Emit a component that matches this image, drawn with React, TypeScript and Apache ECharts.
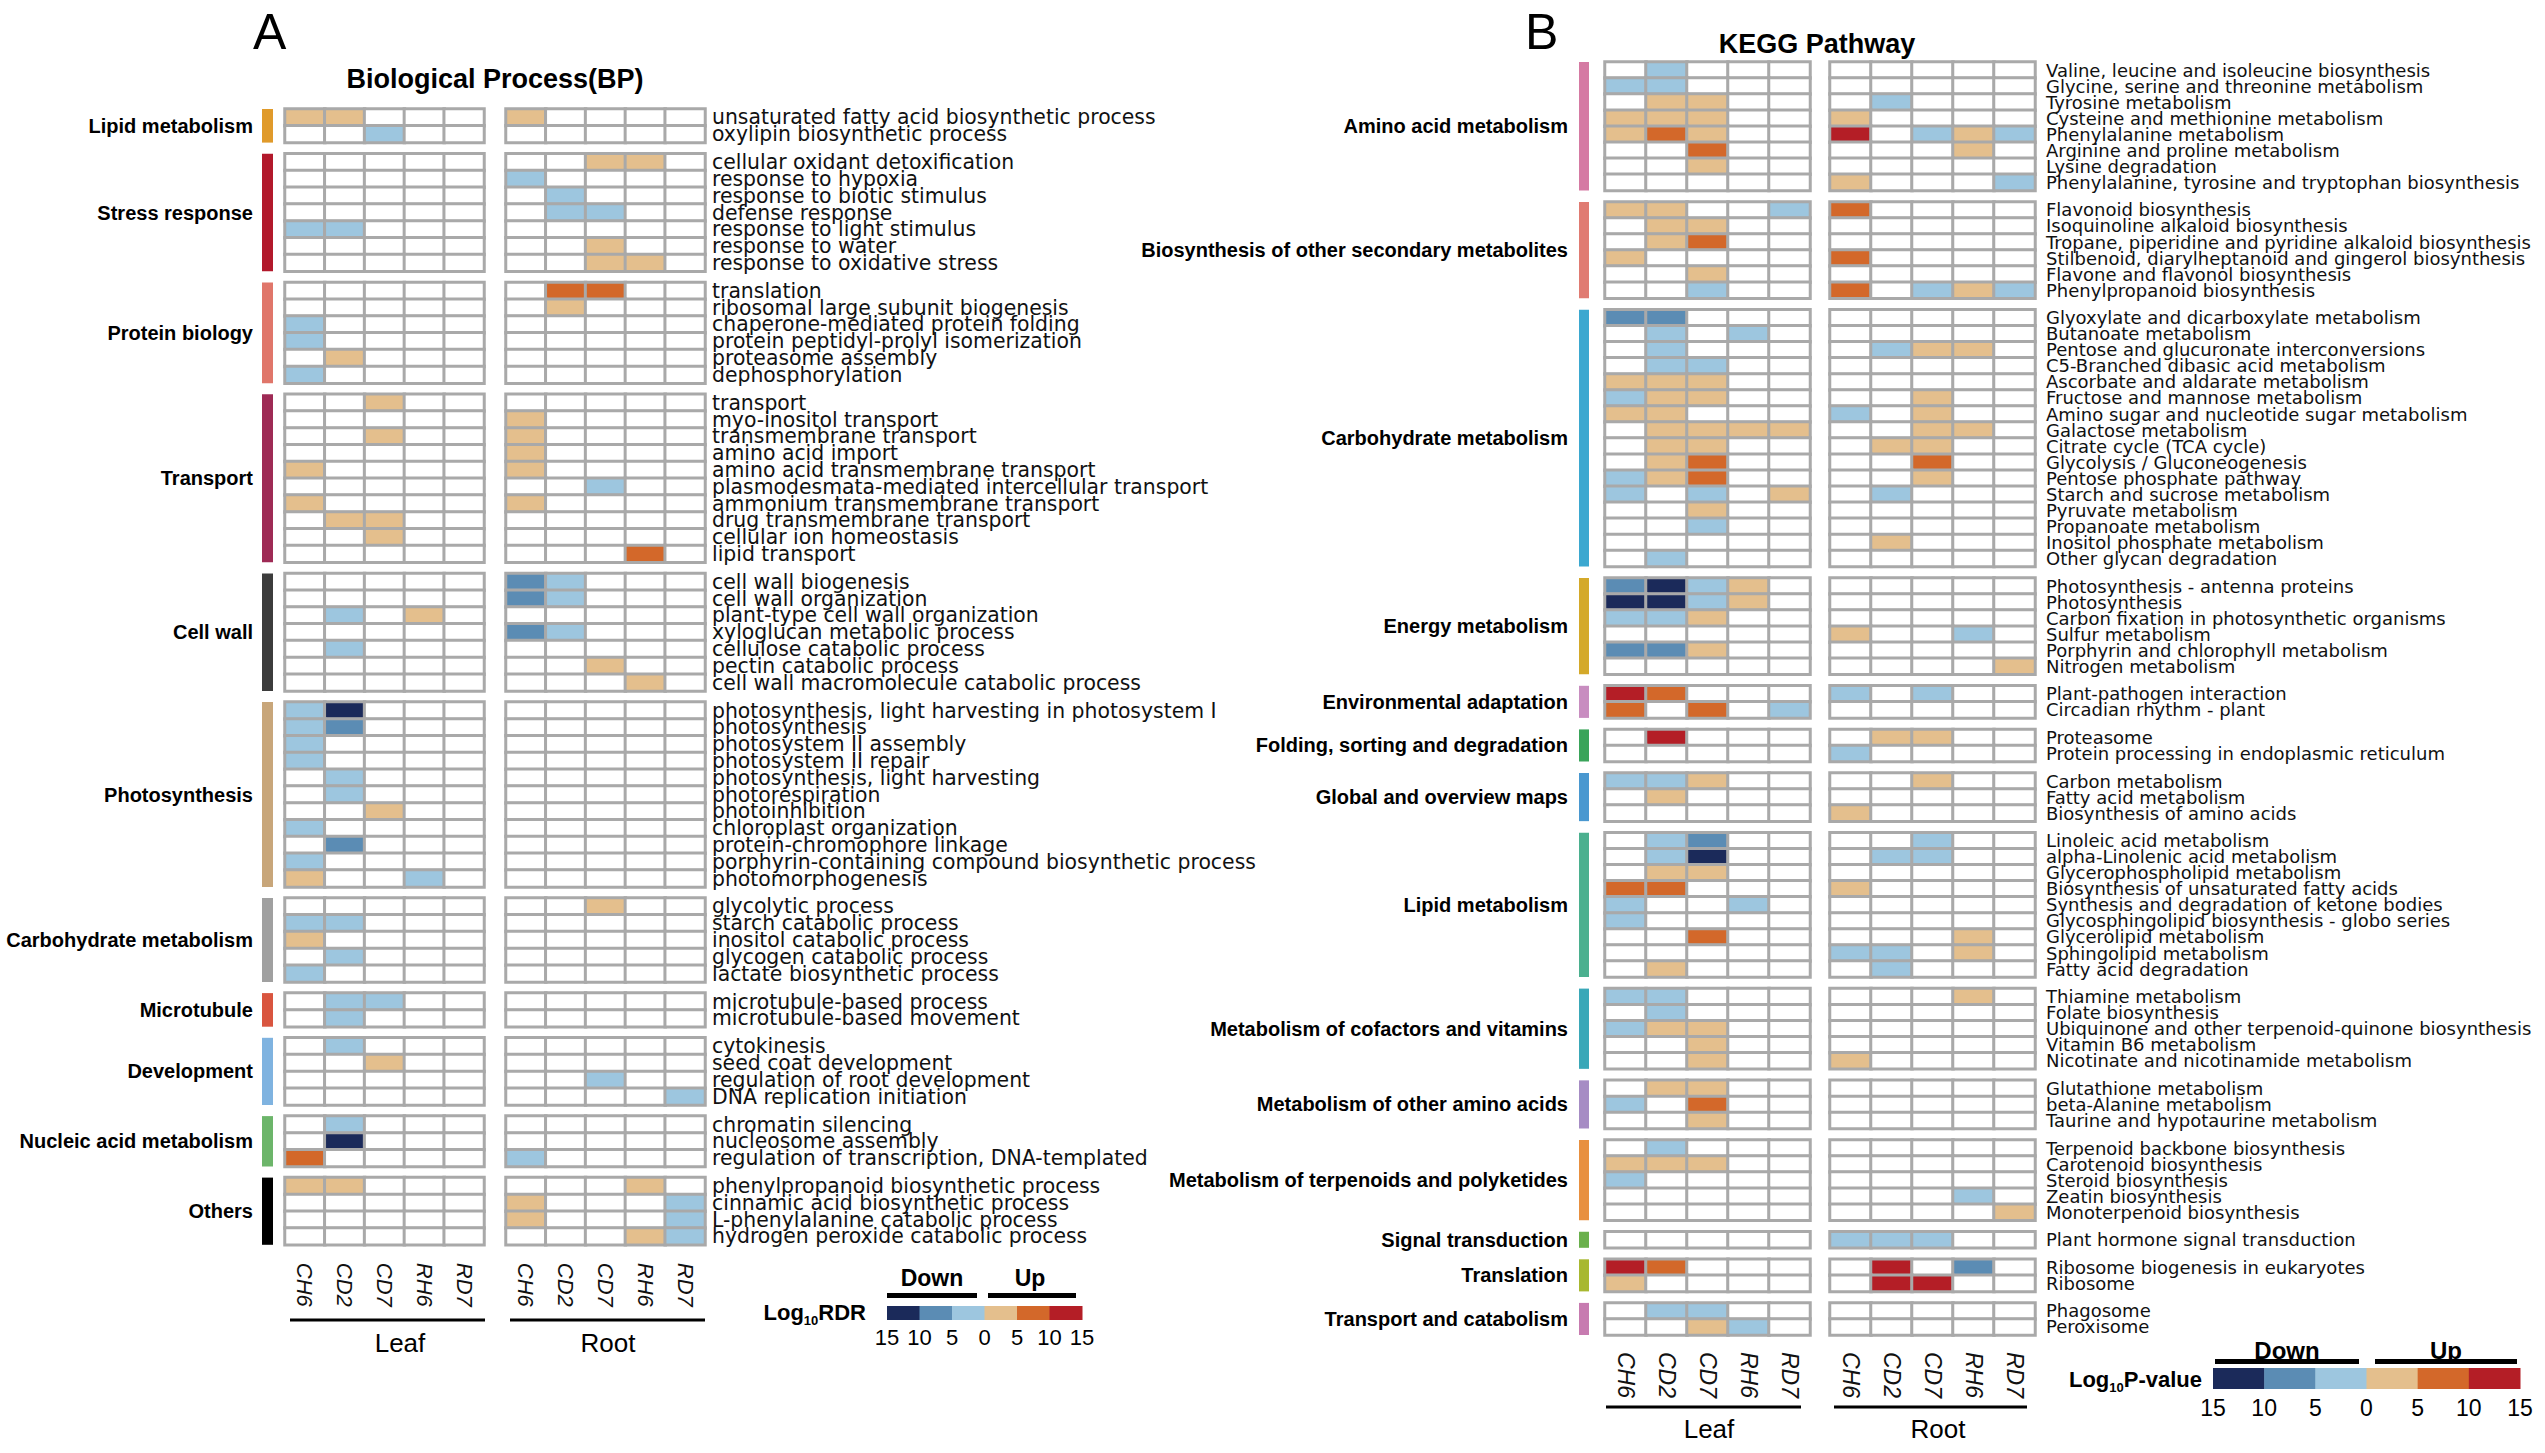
import React, { useEffect, useRef } from "react";
import * as echarts from "echarts";

// ---------- value levels (log10 estimates read from colour classes) ----------
const d = -13; // down, 10-15 (dark navy)
const m = -8; // down, 5-10 (steel blue)
const l = -3; // down, 0-5 (light blue)
const _ = 0; // not significant
const t = 3; // up, 0-5 (tan)
const o = 8; // up, 5-10 (orange)
const r = 13; // up, 10-15 (red)

const samples = ["CH6", "CD2", "CD7", "RH6", "RD7"];
const tissues = ["Leaf", "Root"];
const legendTicks = ["15", "10", "5", "0", "5", "10", "15"];
const LEVEL_COLORS = ["#1b2a5a", "#5b8cb4", "#9dc6df", "#e4bf8d", "#d3682a", "#b41e26"];

type Row = [string, number[]];

// ---------- Panel A: Biological Process ----------
const bpLipid: Row[] = [
  ["unsaturated fatty acid biosynthetic process", [t, t, _, _, _, t, _, _, _, _]],
  ["oxylipin biosynthetic process", [_, _, l, _, _, _, _, _, _, _]],
];
const bpStress: Row[] = [
  ["cellular oxidant detoxification", [_, _, _, _, _, _, _, t, t, _]],
  ["response to hypoxia", [_, _, _, _, _, l, _, _, _, _]],
  ["response to biotic stimulus", [_, _, _, _, _, _, l, _, _, _]],
  ["defense response", [_, _, _, _, _, _, l, l, _, _]],
  ["response to light stimulus", [l, l, _, _, _, _, _, _, _, _]],
  ["response to water", [_, _, _, _, _, _, _, t, _, _]],
  ["response to oxidative stress", [_, _, _, _, _, _, _, t, t, _]],
];
const bpProtein: Row[] = [
  ["translation", [_, _, _, _, _, _, o, o, _, _]],
  ["ribosomal large subunit biogenesis", [_, _, _, _, _, _, t, _, _, _]],
  ["chaperone-mediated protein folding", [l, _, _, _, _, _, _, _, _, _]],
  ["protein peptidyl-prolyl isomerization", [l, _, _, _, _, _, _, _, _, _]],
  ["proteasome assembly", [_, t, _, _, _, _, _, _, _, _]],
  ["dephosphorylation", [l, _, _, _, _, _, _, _, _, _]],
];
const bpTransport: Row[] = [
  ["transport", [_, _, t, _, _, _, _, _, _, _]],
  ["myo-inositol transport", [_, _, _, _, _, t, _, _, _, _]],
  ["transmembrane transport", [_, _, t, _, _, t, _, _, _, _]],
  ["amino acid import", [_, _, _, _, _, t, _, _, _, _]],
  ["amino acid transmembrane transport", [t, _, _, _, _, t, _, _, _, _]],
  ["plasmodesmata-mediated intercellular transport", [_, _, _, _, _, _, _, l, _, _]],
  ["ammonium transmembrane transport", [t, _, _, _, _, t, _, _, _, _]],
  ["drug transmembrane transport", [_, t, t, _, _, _, _, _, _, _]],
  ["cellular ion homeostasis", [_, _, t, _, _, _, _, _, _, _]],
  ["lipid transport", [_, _, _, _, _, _, _, _, o, _]],
];
const bpCellWall: Row[] = [
  ["cell wall biogenesis", [_, _, _, _, _, m, l, _, _, _]],
  ["cell wall organization", [_, _, _, _, _, m, l, _, _, _]],
  ["plant-type cell wall organization", [_, l, _, t, _, _, _, _, _, _]],
  ["xyloglucan metabolic process", [_, _, _, _, _, m, l, _, _, _]],
  ["cellulose catabolic process", [_, l, _, _, _, _, _, _, _, _]],
  ["pectin catabolic process", [_, _, _, _, _, _, _, t, _, _]],
  ["cell wall macromolecule catabolic process", [_, _, _, _, _, _, _, _, t, _]],
];
const bpPhoto: Row[] = [
  ["photosynthesis, light harvesting in photosystem I", [l, d, _, _, _, _, _, _, _, _]],
  ["photosynthesis", [l, m, _, _, _, _, _, _, _, _]],
  ["photosystem II assembly", [l, _, _, _, _, _, _, _, _, _]],
  ["photosystem II repair", [l, _, _, _, _, _, _, _, _, _]],
  ["photosynthesis, light harvesting", [_, l, _, _, _, _, _, _, _, _]],
  ["photorespiration", [_, l, _, _, _, _, _, _, _, _]],
  ["photoinhibition", [_, _, t, _, _, _, _, _, _, _]],
  ["chloroplast organization", [l, _, _, _, _, _, _, _, _, _]],
  ["protein-chromophore linkage", [_, m, _, _, _, _, _, _, _, _]],
  ["porphyrin-containing compound biosynthetic process", [l, _, _, _, _, _, _, _, _, _]],
  ["photomorphogenesis", [t, _, _, l, _, _, _, _, _, _]],
];
const bpCarb: Row[] = [
  ["glycolytic process", [_, _, _, _, _, _, _, t, _, _]],
  ["starch catabolic process", [l, l, _, _, _, _, _, _, _, _]],
  ["inositol catabolic process", [t, _, _, _, _, _, _, _, _, _]],
  ["glycogen catabolic process", [_, l, _, _, _, _, _, _, _, _]],
  ["lactate biosynthetic process", [l, _, _, _, _, _, _, _, _, _]],
];
const bpMicro: Row[] = [
  ["microtubule-based process", [_, l, l, _, _, _, _, _, _, _]],
  ["microtubule-based movement", [_, l, _, _, _, _, _, _, _, _]],
];
const bpDev: Row[] = [
  ["cytokinesis", [_, l, _, _, _, _, _, _, _, _]],
  ["seed coat development", [_, _, t, _, _, _, _, _, _, _]],
  ["regulation of root development", [_, _, _, _, _, _, _, l, _, _]],
  ["DNA replication initiation", [_, _, _, _, _, _, _, _, _, l]],
];
const bpNucleic: Row[] = [
  ["chromatin silencing", [_, l, _, _, _, _, _, _, _, _]],
  ["nucleosome assembly", [_, d, _, _, _, _, _, _, _, _]],
  ["regulation of transcription, DNA-templated", [o, _, _, _, _, l, _, _, _, _]],
];
const bpOthers: Row[] = [
  ["phenylpropanoid biosynthetic process", [t, t, _, _, _, _, _, _, t, _]],
  ["cinnamic acid biosynthetic process", [_, _, _, _, _, t, _, _, _, l]],
  ["L-phenylalanine catabolic process", [_, _, _, _, _, t, _, _, _, l]],
  ["hydrogen peroxide catabolic process", [_, _, _, _, _, _, _, _, t, l]],
];

const bpGroups: [string, string, Row[]][] = [
  ["Lipid metabolism", "#e09a2a", bpLipid],
  ["Stress response", "#b2182b", bpStress],
  ["Protein biology", "#e0766a", bpProtein],
  ["Transport", "#9e2a55", bpTransport],
  ["Cell wall", "#3c3c3c", bpCellWall],
  ["Photosynthesis", "#c8a67a", bpPhoto],
  ["Carbohydrate metabolism", "#a0a0a0", bpCarb],
  ["Microtubule", "#d9553f", bpMicro],
  ["Development", "#7fb3e0", bpDev],
  ["Nucleic acid metabolism", "#6cb56a", bpNucleic],
  ["Others", "#000000", bpOthers],
];

// ---------- Panel B: KEGG Pathway ----------
const kgAmino: Row[] = [
  ["Valine, leucine and isoleucine biosynthesis", [_, l, _, _, _, _, _, _, _, _]],
  ["Glycine, serine and threonine metabolism", [l, l, _, _, _, _, _, _, _, _]],
  ["Tyrosine metabolism", [_, t, t, _, _, _, l, _, _, _]],
  ["Cysteine and methionine metabolism", [t, t, t, _, _, t, _, _, _, _]],
  ["Phenylalanine metabolism", [t, o, t, _, _, r, _, l, t, l]],
  ["Arginine and proline metabolism", [_, _, o, _, _, _, _, _, t, _]],
  ["Lysine degradation", [_, _, t, _, _, _, _, _, _, _]],
  ["Phenylalanine, tyrosine and tryptophan biosynthesis", [_, _, _, _, _, t, _, _, _, l]],
];
const kgSecondary: Row[] = [
  ["Flavonoid biosynthesis", [t, t, _, _, l, o, _, _, _, _]],
  ["Isoquinoline alkaloid biosynthesis", [_, t, t, _, _, _, _, _, _, _]],
  ["Tropane, piperidine and pyridine alkaloid biosynthesis", [_, t, o, _, _, _, _, _, _, _]],
  ["Stilbenoid, diarylheptanoid and gingerol biosynthesis", [t, _, _, _, _, o, _, _, _, _]],
  ["Flavone and flavonol biosynthesis", [_, _, t, _, _, _, _, _, _, _]],
  ["Phenylpropanoid biosynthesis", [_, _, l, _, _, o, _, l, t, l]],
];
const kgCarb: Row[] = [
  ["Glyoxylate and dicarboxylate metabolism", [m, m, _, _, _, _, _, _, _, _]],
  ["Butanoate metabolism", [_, l, _, l, _, _, _, _, _, _]],
  ["Pentose and glucuronate interconversions", [_, l, _, _, _, _, l, t, t, _]],
  ["C5-Branched dibasic acid metabolism", [_, l, l, _, _, _, _, _, _, _]],
  ["Ascorbate and aldarate metabolism", [t, t, t, _, _, _, _, _, _, _]],
  ["Fructose and mannose metabolism", [l, t, t, _, _, _, _, t, _, _]],
  ["Amino sugar and nucleotide sugar metabolism", [t, t, _, _, _, l, _, t, _, _]],
  ["Galactose metabolism", [_, t, t, t, t, _, _, t, t, _]],
  ["Citrate cycle (TCA cycle)", [_, t, t, _, _, _, t, t, _, _]],
  ["Glycolysis / Gluconeogenesis", [_, t, o, _, _, _, _, o, _, _]],
  ["Pentose phosphate pathway", [l, t, o, _, _, _, _, t, _, _]],
  ["Starch and sucrose metabolism", [l, _, l, _, t, _, l, _, _, _]],
  ["Pyruvate metabolism", [_, _, t, _, _, _, _, _, _, _]],
  ["Propanoate metabolism", [_, _, l, _, _, _, _, _, _, _]],
  ["Inositol phosphate metabolism", [_, _, _, _, _, _, t, _, _, _]],
  ["Other glycan degradation", [_, l, _, _, _, _, _, _, _, _]],
];
const kgEnergy: Row[] = [
  ["Photosynthesis - antenna proteins", [m, d, l, t, _, _, _, _, _, _]],
  ["Photosynthesis", [d, d, l, t, _, _, _, _, _, _]],
  ["Carbon fixation in photosynthetic organisms", [l, l, t, _, _, _, _, _, _, _]],
  ["Sulfur metabolism", [_, _, _, _, _, t, _, _, l, _]],
  ["Porphyrin and chlorophyll metabolism", [m, m, t, _, _, _, _, _, _, _]],
  ["Nitrogen metabolism", [_, _, _, _, _, _, _, _, _, t]],
];
const kgEnv: Row[] = [
  ["Plant-pathogen interaction", [r, o, _, _, _, l, _, l, _, _]],
  ["Circadian rhythm - plant", [o, _, o, _, l, _, _, _, _, _]],
];
const kgFolding: Row[] = [
  ["Proteasome", [_, r, _, _, _, _, t, t, _, _]],
  ["Protein processing in endoplasmic reticulum", [_, _, _, _, _, l, _, _, _, _]],
];
const kgGlobal: Row[] = [
  ["Carbon metabolism", [l, l, t, _, _, _, _, t, _, _]],
  ["Fatty acid metabolism", [_, t, _, _, _, _, _, _, _, _]],
  ["Biosynthesis of amino acids", [_, _, _, _, _, t, _, _, _, _]],
];
const kgLipid: Row[] = [
  ["Linoleic acid metabolism", [_, l, m, _, _, _, _, l, _, _]],
  ["alpha-Linolenic acid metabolism", [_, l, d, _, _, _, l, l, _, _]],
  ["Glycerophospholipid metabolism", [_, t, t, _, _, _, _, _, _, _]],
  ["Biosynthesis of unsaturated fatty acids", [o, o, _, _, _, t, _, _, _, _]],
  ["Synthesis and degradation of ketone bodies", [l, _, _, l, _, _, _, _, _, _]],
  ["Glycosphingolipid biosynthesis - globo series", [l, _, _, _, _, _, _, _, _, _]],
  ["Glycerolipid metabolism", [_, _, o, _, _, _, _, _, t, _]],
  ["Sphingolipid metabolism", [_, _, _, _, _, l, l, _, t, _]],
  ["Fatty acid degradation", [_, t, _, _, _, _, l, _, _, _]],
];
const kgCofactor: Row[] = [
  ["Thiamine metabolism", [l, l, _, _, _, _, _, _, t, _]],
  ["Folate biosynthesis", [_, l, _, _, _, _, _, _, _, _]],
  ["Ubiquinone and other terpenoid-quinone biosynthesis", [l, t, t, _, _, _, _, _, _, _]],
  ["Vitamin B6 metabolism", [_, _, t, _, _, _, _, _, _, _]],
  ["Nicotinate and nicotinamide metabolism", [_, _, t, _, _, t, _, _, _, _]],
];
const kgOtherAA: Row[] = [
  ["Glutathione metabolism", [_, t, t, _, _, _, _, _, _, _]],
  ["beta-Alanine metabolism", [l, _, o, _, _, _, _, _, _, _]],
  ["Taurine and hypotaurine metabolism", [_, _, t, _, _, _, _, _, _, _]],
];
const kgTerp: Row[] = [
  ["Terpenoid backbone biosynthesis", [_, l, _, _, _, _, _, _, _, _]],
  ["Carotenoid biosynthesis", [t, t, t, _, _, _, _, _, _, _]],
  ["Steroid biosynthesis", [l, _, _, _, _, _, _, _, _, _]],
  ["Zeatin biosynthesis", [_, _, _, _, _, _, _, _, l, _]],
  ["Monoterpenoid biosynthesis", [_, _, _, _, _, _, _, _, _, t]],
];
const kgSignal: Row[] = [
  ["Plant hormone signal transduction", [_, _, _, _, _, l, l, l, _, _]],
];
const kgTranslation: Row[] = [
  ["Ribosome biogenesis in eukaryotes", [r, o, _, _, _, _, r, _, m, _]],
  ["Ribosome", [t, _, _, _, _, _, r, r, _, _]],
];
const kgTransport: Row[] = [
  ["Phagosome", [_, l, l, _, _, _, _, _, _, _]],
  ["Peroxisome", [_, _, t, l, _, _, _, _, _, _]],
];

const kgGroups: [string, string, Row[]][] = [
  ["Amino acid metabolism", "#d57aa3", kgAmino],
  ["Biosynthesis of other secondary metabolites", "#e07b72", kgSecondary],
  ["Carbohydrate metabolism", "#3ba8d0", kgCarb],
  ["Energy metabolism", "#d4a92a", kgEnergy],
  ["Environmental adaptation", "#c88dc0", kgEnv],
  ["Folding, sorting and degradation", "#3aa45a", kgFolding],
  ["Global and overview maps", "#4a98d0", kgGlobal],
  ["Lipid metabolism", "#4bb08f", kgLipid],
  ["Metabolism of cofactors and vitamins", "#3aa8b8", kgCofactor],
  ["Metabolism of other amino acids", "#a68cc4", kgOtherAA],
  ["Metabolism of terpenoids and polyketides", "#e89040", kgTerp],
  ["Signal transduction", "#6ab04c", kgSignal],
  ["Translation", "#a8b830", kgTranslation],
  ["Transport and catabolism", "#c77bb0", kgTransport],
];

// ---------- styling ----------
const SANS = "'Liberation Sans', Arial, Helvetica, sans-serif";
const ROWFONT = "'DejaVu Sans', Verdana, sans-serif";
const GRID_GREY = "#a9a9a9";

function measure(text: string, font: string): number {
  const c = document.createElement("canvas");
  const ctx = c.getContext("2d")!;
  ctx.font = font;
  return ctx.measureText(text).width;
}

type Cfg = {
  top: number; rowH: number; gap: number; leafLeft: number; rootLeft: number; gridW: number;
  barX: number; barW: number; groupRight: number; rowFont: number; labelMargin: number;
  colFont: number; colMargin: number;
};

function buildPanel(groups: [string, string, Row[]][], cfg: Cfg, out: any) {
  let y = cfg.top;
  groups.forEach((g, gi) => {
    const [gname, gcolor, rows] = g;
    const h = rows.length * cfg.rowH;
    const isLast = gi === groups.length - 1;
    for (let ti = 0; ti < 2; ti++) {
      const idx = out.grid.length;
      out.grid.push({ left: ti ? cfg.rootLeft : cfg.leafLeft, top: y, width: cfg.gridW, height: h });
      out.xAxis.push({
        type: "category", gridIndex: idx, data: samples, position: "bottom",
        axisLine: { show: false }, axisTick: { show: false }, splitLine: { show: false },
        axisLabel: {
          show: isLast, interval: 0, rotate: -90, margin: cfg.colMargin,
          fontFamily: SANS, fontStyle: "italic", fontSize: cfg.colFont, color: "#111",
        },
      });
      out.yAxis.push({
        type: "category", gridIndex: idx, data: rows.map((rw) => rw[0]), inverse: true, position: "right",
        axisLine: { show: false }, axisTick: { show: false }, splitLine: { show: false },
        axisLabel: {
          show: ti === 1, interval: 0, margin: cfg.labelMargin,
          fontFamily: ROWFONT, fontSize: cfg.rowFont, color: "#111",
          lineHeight: Math.floor(cfg.rowH) - 1,
        },
      });
      out.series.push({
        type: "heatmap", xAxisIndex: idx, yAxisIndex: idx, silent: true,
        data: rows.flatMap((rw, ri) => rw[1].slice(ti * 5, ti * 5 + 5).map((v, ci) => [ci, ri, v])),
        itemStyle: { borderColor: GRID_GREY, borderWidth: 3 },
        emphasis: { disabled: true },
      });
    }
    out.graphic.push({
      type: "rect", silent: true,
      shape: { x: cfg.barX, y, width: cfg.barW, height: h },
      style: { fill: gcolor },
    });
    out.graphic.push({
      type: "text", silent: true, x: cfg.groupRight, y: y + h / 2,
      style: {
        text: gname, textAlign: "right", textVerticalAlign: "middle",
        fontFamily: SANS, fontWeight: "bold", fontSize: 20, fill: "#000",
      },
    });
    y += h + cfg.gap;
  });
}

function txt(text: string, x: number, y: number, size: number, opts: any = {}) {
  return {
    type: "text", silent: true, x, y,
    style: {
      text, textAlign: opts.align || "center", textVerticalAlign: "middle",
      fontFamily: opts.family || SANS, fontWeight: opts.weight || "normal",
      fontSize: size, fill: "#000",
    },
  };
}

function legend(out: any, p: any) {
  out.graphic.push(txt("Down", p.downX, p.headY, p.headSize, { weight: "bold" }));
  out.graphic.push(txt("Up", p.upX, p.headY, p.headSize, { weight: "bold" }));
  out.graphic.push({ type: "rect", silent: true, shape: { x: p.downBar[0], y: p.barY, width: p.downBar[1], height: 5 }, style: { fill: "#000" } });
  out.graphic.push({ type: "rect", silent: true, shape: { x: p.upBar[0], y: p.barY, width: p.upBar[1], height: 5 }, style: { fill: "#000" } });
  const cw = p.stripW / LEVEL_COLORS.length;
  LEVEL_COLORS.forEach((c, i) => {
    out.graphic.push({ type: "rect", silent: true, shape: { x: p.stripX + i * cw, y: p.stripY, width: cw + 0.5, height: p.stripH }, style: { fill: c } });
  });
  legendTicks.forEach((tk, i) => {
    out.graphic.push(txt(tk, p.stripX + i * cw, p.tickY, p.tickSize));
  });
  const bigFont = `bold ${p.titleSize}px 'Liberation Sans'`;
  const smallFont = `bold ${p.subSize}px 'Liberation Sans'`;
  const wTail = measure(p.tail, bigFont);
  const wSub = measure("10", smallFont);
  out.graphic.push(txt(p.tail, p.titleRight, p.titleY, p.titleSize, { align: "right", weight: "bold" }));
  out.graphic.push(txt("10", p.titleRight - wTail, p.titleY + p.titleSize * 0.38, p.subSize, { align: "right", weight: "bold" }));
  out.graphic.push(txt("Log", p.titleRight - wTail - wSub, p.titleY, p.titleSize, { align: "right", weight: "bold" }));
}

function buildOption() {
  const out: any = { grid: [], xAxis: [], yAxis: [], series: [], graphic: [] };

  const cfgA: Cfg = {
    top: 109, rowH: 16.8, gap: 11.1, leafLeft: 285, rootLeft: 506, gridW: 199,
    barX: 262, barW: 11, groupRight: 253, rowFont: 20.4, labelMargin: 7, colFont: 22, colMargin: 18,
  };
  const cfgB: Cfg = {
    top: 62, rowH: 16.05, gap: 11.5, leafLeft: 1605, rootLeft: 1830, gridW: 205,
    barX: 1579, barW: 10, groupRight: 1568, rowFont: 18, labelMargin: 11, colFont: 23, colMargin: 17,
  };
  buildPanel(bpGroups, cfgA, out);
  buildPanel(kgGroups, cfgB, out);

  out.graphic.push(txt("A", 253, 32, 50, { align: "left" }));
  out.graphic.push(txt("B", 1525, 32, 50, { align: "left" }));
  out.graphic.push(txt("Biological Process(BP)", 495, 79, 27, { weight: "bold" }));
  out.graphic.push(txt("KEGG Pathway", 1817, 44, 27, { weight: "bold" }));

  const tissueA = [[290, 485, 400], [510, 705, 608]];
  const tissueB = [[1606, 1801, 1709], [1834, 2027, 1938]];
  tissueA.forEach((s, i) => {
    out.graphic.push({ type: "line", silent: true, shape: { x1: s[0], y1: 1320, x2: s[1], y2: 1320 }, style: { stroke: "#000", lineWidth: 3 } });
    out.graphic.push(txt(tissues[i], s[2], 1343, 26));
  });
  tissueB.forEach((s, i) => {
    out.graphic.push({ type: "line", silent: true, shape: { x1: s[0], y1: 1407, x2: s[1], y2: 1407 }, style: { stroke: "#000", lineWidth: 3 } });
    out.graphic.push(txt(tissues[i], s[2], 1429, 26));
  });

  legend(out, {
    downX: 932, upX: 1030, headY: 1278, headSize: 23, barY: 1293, downBar: [887, 90], upBar: [988, 88],
    stripX: 887, stripW: 195, stripY: 1306, stripH: 14, tickY: 1337, tickSize: 22,
    tail: "RDR", titleRight: 866, titleY: 1312, titleSize: 22, subSize: 13,
  });
  legend(out, {
    downX: 2287, upX: 2446, headY: 1350, headSize: 24, barY: 1359, downBar: [2215, 144], upBar: [2375, 142],
    stripX: 2213, stripW: 307, stripY: 1368, stripH: 21, tickY: 1408, tickSize: 23,
    tail: "P-value", titleRight: 2202, titleY: 1379, titleSize: 22, subSize: 13,
  });

  return {
    animation: false,
    backgroundColor: "#ffffff",
    textStyle: { fontFamily: SANS },
    visualMap: {
      type: "piecewise", show: false, dimension: 2,
      pieces: [
        { gte: -15, lt: -10, color: LEVEL_COLORS[0] },
        { gte: -10, lt: -5, color: LEVEL_COLORS[1] },
        { gte: -5, lt: 0, color: LEVEL_COLORS[2] },
        { value: 0, color: "#ffffff" },
        { gt: 0, lte: 5, color: LEVEL_COLORS[3] },
        { gt: 5, lte: 10, color: LEVEL_COLORS[4] },
        { gt: 10, lte: 15, color: LEVEL_COLORS[5] },
      ],
      outOfRange: { color: "#ffffff" },
    },
    grid: out.grid,
    xAxis: out.xAxis,
    yAxis: out.yAxis,
    series: out.series,
    graphic: out.graphic,
  };
}

export default function App() {
  const ref = useRef<HTMLDivElement>(null);
  useEffect(() => {
    document.body.style.margin = "0";
    document.body.style.overflow = "hidden";
    if (!ref.current) return;
    const chart = echarts.init(ref.current, undefined, { renderer: "svg" });
    chart.setOption(buildOption() as any);
    return () => chart.dispose();
  }, []);
  return (
    <div
      ref={ref}
      style={{ position: "absolute", left: 0, top: 0, width: 2545, height: 1453, background: "#fff" }}
    />
  );
}
